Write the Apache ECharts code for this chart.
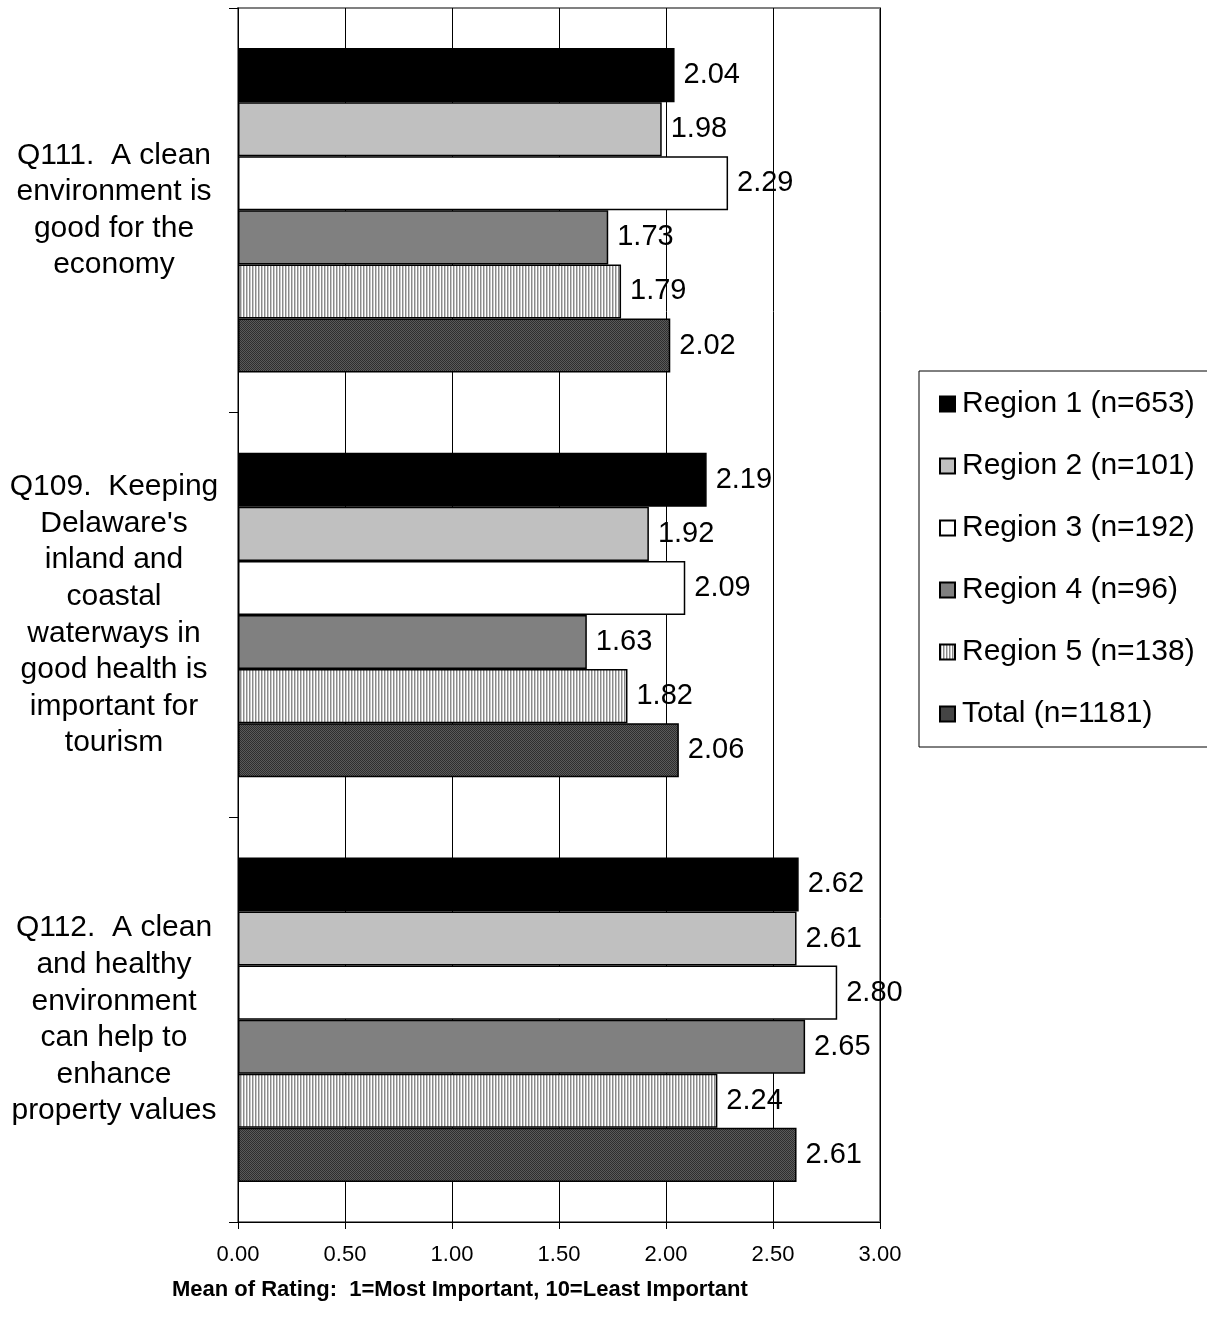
<!DOCTYPE html>
<html><head><meta charset="utf-8">
<script src="https://cdn.jsdelivr.net/npm/echarts@6/dist/echarts.min.js"></script>
<style>html,body{margin:0;padding:0;background:#fff}#c{width:1207px;height:1318px}</style>
</head><body><div id="c"></div>
<script>
const categories = [
  "Q111.  A clean\nenvironment is\ngood for the\neconomy",
  "Q109.  Keeping\nDelaware's\ninland and\ncoastal\nwaterways in\ngood health is\nimportant for\ntourism",
  "Q112.  A clean\nand healthy\nenvironment\ncan help to\nenhance\nproperty values"
];
const seriesNames = ["Region 1 (n=653)","Region 2 (n=101)","Region 3 (n=192)","Region 4 (n=96)","Region 5 (n=138)","Total (n=1181)"];
const region1 = [2.04, 2.19, 2.62];
const region2 = [1.98, 1.92, 2.61];
const region3 = [2.29, 2.09, 2.80];
const region4 = [1.73, 1.63, 2.65];
const region5 = [1.79, 1.82, 2.24];
const total   = [2.02, 2.06, 2.61];
const xTicks = [0, 0.5, 1, 1.5, 2, 2.5, 3];

function pattern(w, h, draw) {
  const c = document.createElement('canvas'); c.width = w; c.height = h;
  const g = c.getContext('2d'); draw(g); return {image: c, repeat: 'repeat'};
}
const stripe = pattern(3, 4, g => {
  g.fillStyle = '#ffffff'; g.fillRect(0,0,3,4);
  g.fillStyle = '#8a8a8a'; g.fillRect(0,0,1,4);
  g.fillStyle = '#c8c8c8'; g.fillRect(1,0,1,4);
});
const dots = pattern(2, 2, g => {
  g.fillStyle = '#5a5a5a'; g.fillRect(0,0,2,2);
  g.fillStyle = '#2e2e2e'; g.fillRect(0,0,1,1); g.fillRect(1,1,1,1);
});
const fills = ['#000000', '#c0c0c0', '#ffffff', '#808080', stripe, dots];
const allData = [region1, region2, region3, region4, region5, total];

const FONT = 'Liberation Sans, Arial, sans-serif';
const chart = echarts.init(document.getElementById('c'), null, {renderer: 'canvas'});
chart.setOption({
  animation: false,
  backgroundColor: '#fff',
  textStyle: {fontFamily: FONT, color: '#000'},
  grid: {left: 238, right: 327, top: 8, bottom: 96, show: true, borderColor: '#808080', borderWidth: 2},
  legend: {
    orient: 'vertical', left: 919, top: 371,
    data: seriesNames,
    itemWidth: 15, itemHeight: 15, itemGap: 32,
    padding: [18, 30, 18, 20],
    borderColor: '#000', borderWidth: 1,
    textStyle: {fontFamily: FONT, fontSize: 30, color: '#000', lineHeight: 30, padding: [0,0,0,2]},
    icon: 'rect'
  },
  xAxis: {
    type: 'value', min: 0, max: 3, interval: 0.5,
    axisLine: {show: true, lineStyle: {color: '#000', width: 1}},
    axisTick: {show: true, length: 7, inside: false, lineStyle: {color: '#000'}},
    axisLabel: {fontSize: 22, color: '#000', margin: 22, fontFamily: FONT,
      formatter: v => v.toFixed(2)},
    splitLine: {show: true, lineStyle: {color: '#000', width: 1}}
  },
  yAxis: {
    type: 'category', data: categories, inverse: true,
    axisLine: {show: true, lineStyle: {color: '#000', width: 1}},
    axisTick: {show: true, length: 9, lineStyle: {color: '#000'}},
    axisLabel: {fontSize: 30, lineHeight: 36.6, color: '#000', align: 'center', margin: 124, fontFamily: FONT},
  },
  graphic: [{
    type: 'text', left: 172, top: 1279,
    style: {text: 'Mean of Rating:  1=Most Important, 10=Least Important', fontFamily: FONT,
      fontSize: 22, fontWeight: 'bold', fill: '#000'}
  }],
  series: allData.map((d, i) => ({
    name: seriesNames[i], type: 'bar', data: d,
    barGap: '0%', barCategoryGap: '19.8%',
    itemStyle: {color: fills[i], borderColor: '#000', borderWidth: 1.5},
    label: {show: true, position: 'right', distance: 9, fontSize: 29, color: '#000', fontFamily: FONT,
      formatter: p => p.value.toFixed(2)}
  }))
});
</script></body></html>
